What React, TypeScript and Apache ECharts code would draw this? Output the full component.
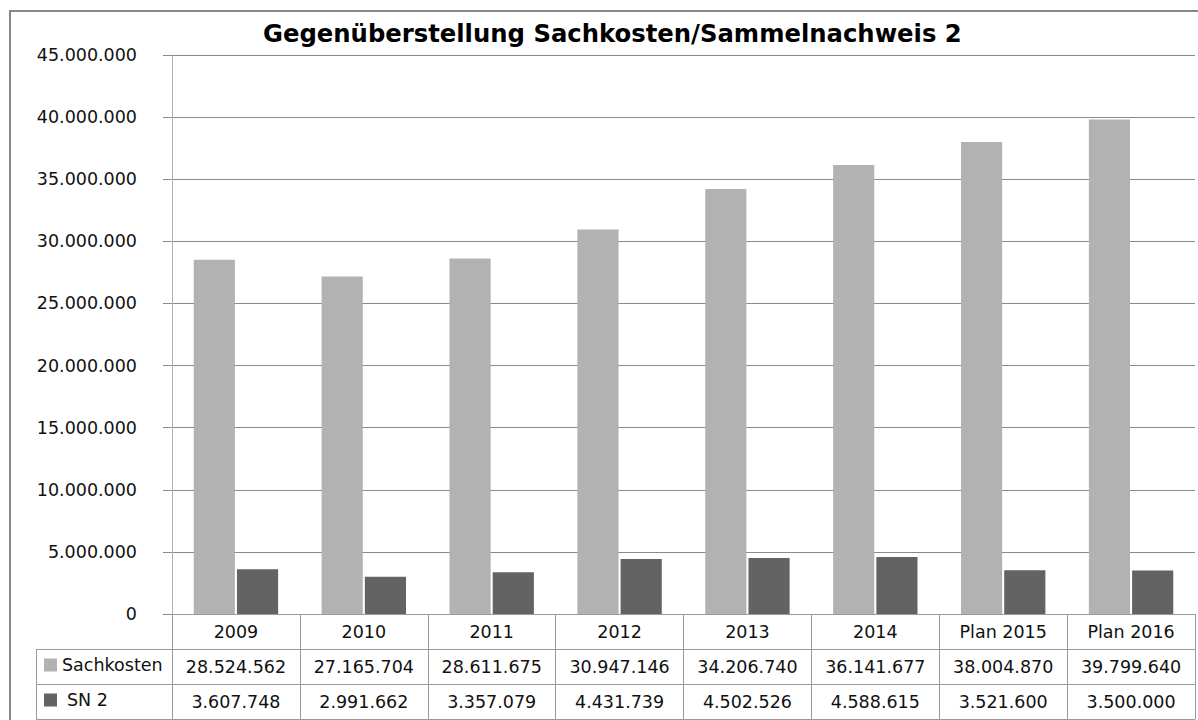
import React, { useEffect, useRef } from 'react';
import * as echarts from 'echarts';

const chartTitle = 'Gegenüberstellung Sachkosten/Sammelnachweis 2';
const categories = ['2009', '2010', '2011', '2012', '2013', '2014', 'Plan 2015', 'Plan 2016'];
const sachkosten = [28524562, 27165704, 28611675, 30947146, 34206740, 36141677, 38004870, 39799640];
const sn2 = [3607748, 2991662, 3357079, 4431739, 4502526, 4588615, 3521600, 3500000];
const seriesNames = ['Sachkosten', 'SN 2'];
const seriesColors = ['#b2b2b2', '#636363'];
const yMin = 0;
const yMax = 45000000;
const yStep = 5000000;

const fmt = (n: number) => String(n).replace(/\B(?=(\d{3})+(?!\d))/g, '.');

const FONT = 'DejaVu Sans';
const TXT = '#111';
const LINE = '#9a9a9a';

export default function App() {
  const ref = useRef<HTMLDivElement>(null);
  useEffect(() => {
    if (!ref.current) return;
    const chart = echarts.init(ref.current, undefined, { renderer: 'svg' });
    const labelStyle = { fontSize: 17.5, color: TXT, fontFamily: FONT, margin: 9, interval: 0 };
    chart.setOption({
      animation: false,
      backgroundColor: '#fff',
      title: {
        text: chartTitle,
        left: 263,
        top: 21,
        padding: 0,
        textStyle: { fontFamily: 'DejaVu Sans', fontWeight: 'bold', fontSize: 24.3, color: '#000' },
      },
      legend: [
        {
          data: [seriesNames[0]],
          left: 44,
          top: 656,
          icon: 'rect',
          itemWidth: 13,
          itemHeight: 13,
          selectedMode: false,
          padding: 0,
          textStyle: { fontSize: 17.5, color: TXT, fontFamily: FONT },
        },
        {
          data: [seriesNames[1]],
          left: 44,
          top: 691,
          icon: 'rect',
          itemWidth: 13,
          itemHeight: 13,
          selectedMode: false,
          padding: 0,
          textStyle: { fontSize: 17.5, color: TXT, fontFamily: FONT, padding: [0, 0, 0, 5] },
        },
      ],
      grid: { left: 172, right: 3, top: 55, bottom: 106, containLabel: false },
      xAxis: [
        {
          type: 'category',
          data: categories,
          position: 'bottom',
          axisLine: { show: true, lineStyle: { color: LINE, width: 1 } },
          axisTick: { show: true, interval: 0, length: 105, alignWithLabel: false, lineStyle: { color: LINE } },
          axisLabel: { ...labelStyle },
        },
        {
          type: 'category',
          data: categories,
          position: 'bottom',
          offset: 35,
          axisLine: { show: true, lineStyle: { color: LINE, width: 1 } },
          axisTick: { show: false },
          axisLabel: { ...labelStyle, formatter: (_v: string, i: number) => fmt(sachkosten[i]) },
        },
        {
          type: 'category',
          data: categories,
          position: 'bottom',
          offset: 70,
          axisLine: { show: true, lineStyle: { color: LINE, width: 1 } },
          axisTick: { show: false },
          axisLabel: { ...labelStyle, formatter: (_v: string, i: number) => fmt(sn2[i]) },
        },
        {
          type: 'category',
          data: categories,
          position: 'bottom',
          offset: 105,
          axisLine: { show: true, lineStyle: { color: LINE, width: 1 } },
          axisTick: { show: false },
          axisLabel: { show: false },
        },
      ],
      yAxis: {
        type: 'value',
        min: yMin,
        max: yMax,
        interval: yStep,
        axisLine: { show: true, lineStyle: { color: '#b0b0b0' } },
        axisTick: { show: true, length: 9, lineStyle: { color: '#8a8a8a' } },
        splitLine: { show: true, lineStyle: { color: '#8a8a8a', width: 1 } },
        axisLabel: {
          fontSize: 17.5,
          color: TXT,
          fontFamily: FONT,
          margin: 35,
          formatter: (v: number) => fmt(v),
        },
      },
      series: [
        {
          name: seriesNames[0],
          type: 'bar',
          xAxisIndex: 0,
          data: sachkosten,
          itemStyle: { color: seriesColors[0] },
          barGap: '5%',
          barCategoryGap: '34%',
        },
        {
          name: seriesNames[1],
          type: 'bar',
          xAxisIndex: 0,
          data: sn2,
          itemStyle: { color: seriesColors[1] },
          barGap: '5%',
          barCategoryGap: '34%',
        },
      ],
      graphic: [
        {
          type: 'rect',
          silent: true,
          shape: { x: 10, y: 11, width: 1300, height: 800 },
          style: { fill: 'none', stroke: '#888', lineWidth: 2 },
          z: 100,
        },
        { type: 'line', silent: true, shape: { x1: 36, y1: 649.5, x2: 172, y2: 649.5 }, style: { stroke: LINE, lineWidth: 1 } },
        { type: 'line', silent: true, shape: { x1: 36, y1: 684.5, x2: 172, y2: 684.5 }, style: { stroke: LINE, lineWidth: 1 } },
        { type: 'line', silent: true, shape: { x1: 36, y1: 719.5, x2: 172, y2: 719.5 }, style: { stroke: LINE, lineWidth: 1 } },
        { type: 'line', silent: true, shape: { x1: 36.5, y1: 649.5, x2: 36.5, y2: 720 }, style: { stroke: LINE, lineWidth: 1 } },
      ],
    });
    return () => chart.dispose();
  }, []);
  return (
    <div
      ref={ref}
      style={{ position: 'fixed', left: 0, top: 0, width: 1198, height: 720, background: '#fff' }}
    />
  );
}
